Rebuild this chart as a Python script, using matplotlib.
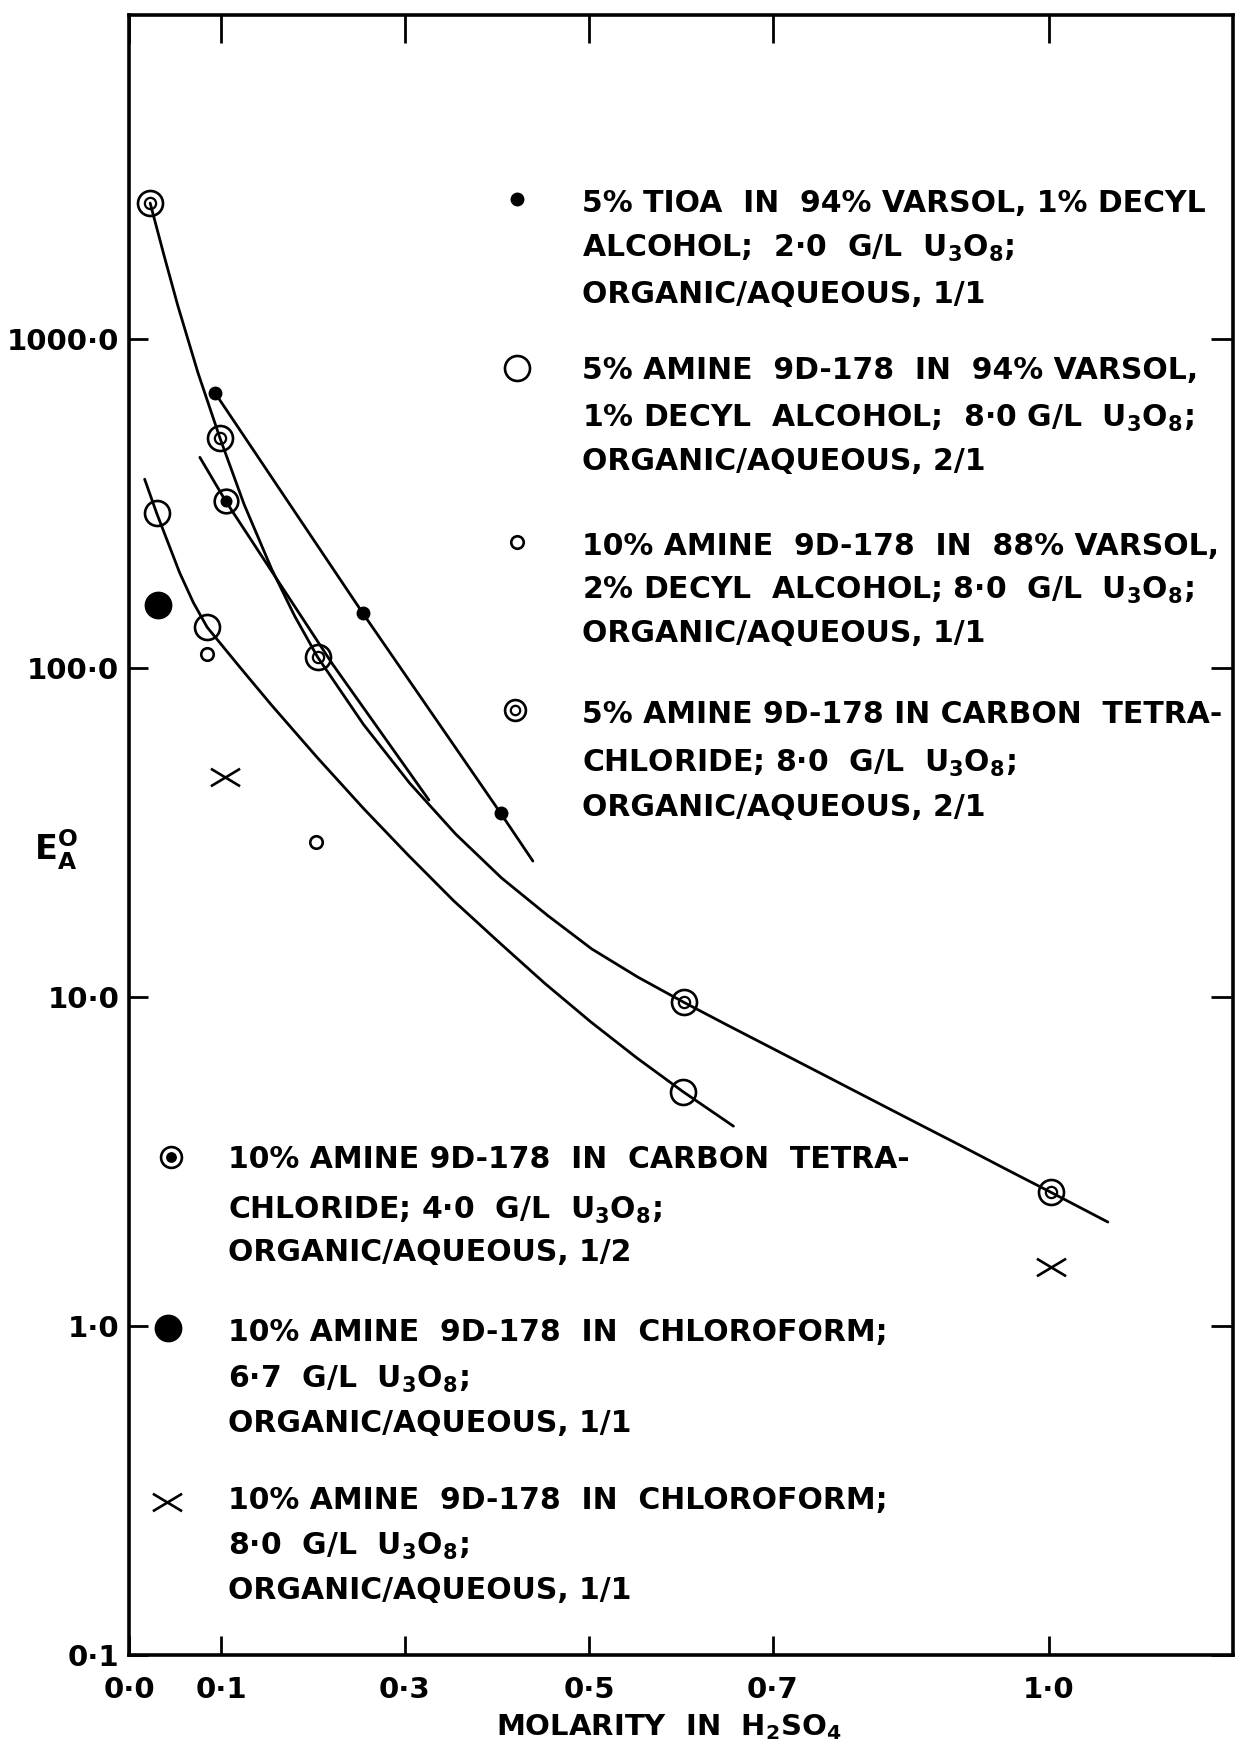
import matplotlib
matplotlib.use("Agg")
import matplotlib.pyplot as plt
from matplotlib.path import Path
from matplotlib.ticker import NullLocator

# measured points (molarity, E_A^O)
tioa_x = [0.0935, 0.254, 0.404]
tioa_y = [686, 147, 36.2]
varsol5_x = [0.030, 0.085, 0.602]
varsol5_y = [296, 133, 5.14]
varsol10_x = [0.085, 0.203]
varsol10_y = [110, 29.6]
ccl4_5_x = [0.023, 0.099, 0.205, 0.603, 1.002]
ccl4_5_y = [2590, 500, 108, 9.66, 2.55]
ccl4_10_x = [0.105]
ccl4_10_y = [322]
chcl3_67_x = [0.0315]
chcl3_67_y = [155]
chcl3_80_x = [0.104, 1.002]
chcl3_80_y = [46.6, 1.51]

# hand drawn curves
curve_tioa_x = [0.0935, 0.254, 0.404, 0.439]
curve_tioa_y = [686, 147, 36.2, 25.9]
curve_ccl4_5_x = [0.023, 0.038, 0.053, 0.075, 0.099, 0.125, 0.155, 0.18, 0.205, 0.255,
                  0.305, 0.355, 0.405, 0.455, 0.503, 0.553, 0.603, 0.652, 0.702,
                  0.752, 0.802, 0.852, 0.902, 0.952, 1.002, 1.064]
curve_ccl4_5_y = [2590, 1799, 1265, 789, 499, 315, 200, 144, 108, 67.3,
                  44.7, 31.3, 23.0, 17.7, 14.0, 11.5, 9.64, 8.17, 6.92,
                  5.86, 4.96, 4.2, 3.56, 3.01, 2.55, 2.07]
curve_varsol5_x = [0.017, 0.030, 0.055, 0.07, 0.085, 0.12, 0.155, 0.205, 0.255,
                   0.304, 0.353, 0.403, 0.452, 0.502, 0.552, 0.602, 0.657]
curve_varsol5_y = [375, 296, 195, 158, 133, 101, 77.1, 53.3, 37.4,
                   26.9, 19.6, 14.6, 11.0, 8.4, 6.53, 5.16, 4.05]
curve_ccl4_10_x = [0.077, 0.105, 0.221, 0.326]
curve_ccl4_10_y = [437, 322, 103, 39.7]

xticks = [0.0, 0.1, 0.3, 0.5, 0.7, 1.0]
xticklabels = ["0·0", "0·1", "0·3", "0·5", "0·7", "1·0"]
yticks = [0.1, 1, 10, 100, 1000]
yticklabels = ["0·1", "1·0", "10·0", "100·0", "1000·0"]

U = "U$_3$O$_8$"
legend_top = [
    ["5% TIOA  IN  94% VARSOL, 1% DECYL", "ALCOHOL;  2·0  G/L  " + U + ";", "ORGANIC/AQUEOUS, 1/1"],
    ["5% AMINE  9D-178  IN  94% VARSOL,", "1% DECYL  ALCOHOL;  8·0 G/L  " + U + ";", "ORGANIC/AQUEOUS, 2/1"],
    ["10% AMINE  9D-178  IN  88% VARSOL,", "2% DECYL  ALCOHOL; 8·0  G/L  " + U + ";", "ORGANIC/AQUEOUS, 1/1"],
    ["5% AMINE 9D-178 IN CARBON  TETRA-", "CHLORIDE; 8·0  G/L  " + U + ";", "ORGANIC/AQUEOUS, 2/1"],
]
legend_bottom = [
    ["10% AMINE 9D-178  IN  CARBON  TETRA-", "CHLORIDE; 4·0  G/L  " + U + ";", "ORGANIC/AQUEOUS, 1/2"],
    ["10% AMINE  9D-178  IN  CHLOROFORM;", "6·7  G/L  " + U + ";", "ORGANIC/AQUEOUS, 1/1"],
    ["10% AMINE  9D-178  IN  CHLOROFORM;", "8·0  G/L  " + U + ";", "ORGANIC/AQUEOUS, 1/1"],
]

plt.rcParams["font.family"] = ["DejaVu Sans"]
plt.rcParams["font.weight"] = "bold"
plt.rcParams["mathtext.default"] = "bf"

W, H = 1237, 1748
fig = plt.figure(figsize=(W / 100, H / 100), dpi=100)
ax = fig.add_axes([129 / W, (H - 1655) / H, 1104 / W, 1640 / H])
ax.set_yscale("log")
ax.set_xlim(0, 1.2)
ax.set_ylim(0.1, 9660)

xmark = Path([(-1, -0.6), (1, 0.6), (-1, 0.6), (1, -0.6)],
             [Path.MOVETO, Path.LINETO, Path.MOVETO, Path.LINETO])

lw = 2.0
for cx, cy in [(curve_tioa_x, curve_tioa_y), (curve_ccl4_5_x, curve_ccl4_5_y),
               (curve_varsol5_x, curve_varsol5_y), (curve_ccl4_10_x, curve_ccl4_10_y)]:
    ax.plot(cx, cy, color="k", lw=lw, solid_capstyle="round", solid_joinstyle="round")


def dot(x, y, **kw):
    ax.plot(x, y, "o", ms=9, mfc="k", mec="k", **kw)


def big_open(x, y, **kw):
    ax.plot(x, y, "o", ms=18, mfc="none", mec="k", mew=1.9, **kw)


def small_open(x, y, **kw):
    ax.plot(x, y, "o", ms=9, mfc="none", mec="k", mew=1.9, **kw)


def double_ring(x, y, ms=18, **kw):
    ax.plot(x, y, "o", ms=ms, mfc="none", mec="k", mew=1.9, **kw)
    ax.plot(x, y, "o", ms=ms * 0.45, mfc="none", mec="k", mew=1.6, **kw)


def ring_dot(x, y, ms=17, **kw):
    ax.plot(x, y, "o", ms=ms, mfc="none", mec="k", mew=1.9, **kw)
    ax.plot(x, y, "o", ms=ms * 0.45, mfc="k", mec="k", **kw)


def big_dot(x, y, **kw):
    ax.plot(x, y, "o", ms=19, mfc="k", mec="k", **kw)


def cross(x, y, **kw):
    ax.plot(x, y, ls="none", marker=xmark, ms=21, mec="k", mew=1.9, **kw)


dot(tioa_x, tioa_y)
big_open(varsol5_x, varsol5_y)
small_open(varsol10_x, varsol10_y)
double_ring(ccl4_5_x, ccl4_5_y)
ring_dot(ccl4_10_x, ccl4_10_y)
big_dot(chcl3_67_x, chcl3_67_y)
cross(chcl3_80_x, chcl3_80_y)

# key markers (axes fractions)
tr = dict(transform=ax.transAxes, clip_on=False)
dot([0.3514], [0.8878], **tr)
big_open([0.3514], [0.7848], **tr)
small_open([0.3514], [0.6787], **tr)
double_ring([0.3496], [0.5762], ms=15, **tr)
ring_dot([0.038], [0.3037], ms=15, **tr)
big_dot([0.0353], [0.1994], **tr)
cross([0.0344], [0.0933], **tr)

top_rows = [[0.8866, 0.8598, 0.8311], [0.7848, 0.7561, 0.7293],
            [0.6780, 0.6512, 0.6250], [0.5756, 0.5457, 0.5183]]
bottom_rows = [[0.3037, 0.2732, 0.2470], [0.1982, 0.1701, 0.1427],
               [0.0963, 0.0683, 0.0409]]
for lines, ys in zip(legend_top, top_rows):
    for s, yy in zip(lines, ys):
        ax.text(0.4103, yy, s, transform=ax.transAxes, fontsize=21.5, va="center_baseline", ha="left")
for lines, ys in zip(legend_bottom, bottom_rows):
    for s, yy in zip(lines, ys):
        ax.text(0.0897, yy, s, transform=ax.transAxes, fontsize=21.5, va="center_baseline", ha="left")

ax.set_xticks(xticks)
ax.set_xticklabels(xticklabels)
ax.set_yticks(yticks)
ax.set_yticklabels(yticklabels)
ax.yaxis.set_minor_locator(NullLocator())
ax.tick_params(axis="both", which="major", direction="in", length=14, width=2.0,
               labelsize=21, top=True, right=True)
ax.tick_params(axis="x", pad=15)
ax.tick_params(axis="y", pad=7)
for t in ax.xaxis.get_major_ticks():
    t.tick2line.set_markersize(20)
for t in ax.yaxis.get_major_ticks():
    t.tick2line.set_markersize(16)
for sp in ax.spines.values():
    sp.set_linewidth(2.6)

fig.text(669 / W, 1 - 1727 / H, "MOLARITY  IN  H$_2$SO$_4$", ha="center", va="center", fontsize=21)
fig.text(56 / W, 1 - 850 / H, "$E_A^O$", ha="center", va="center", fontsize=24)

fig.savefig("out.png", dpi=100, facecolor="white")
